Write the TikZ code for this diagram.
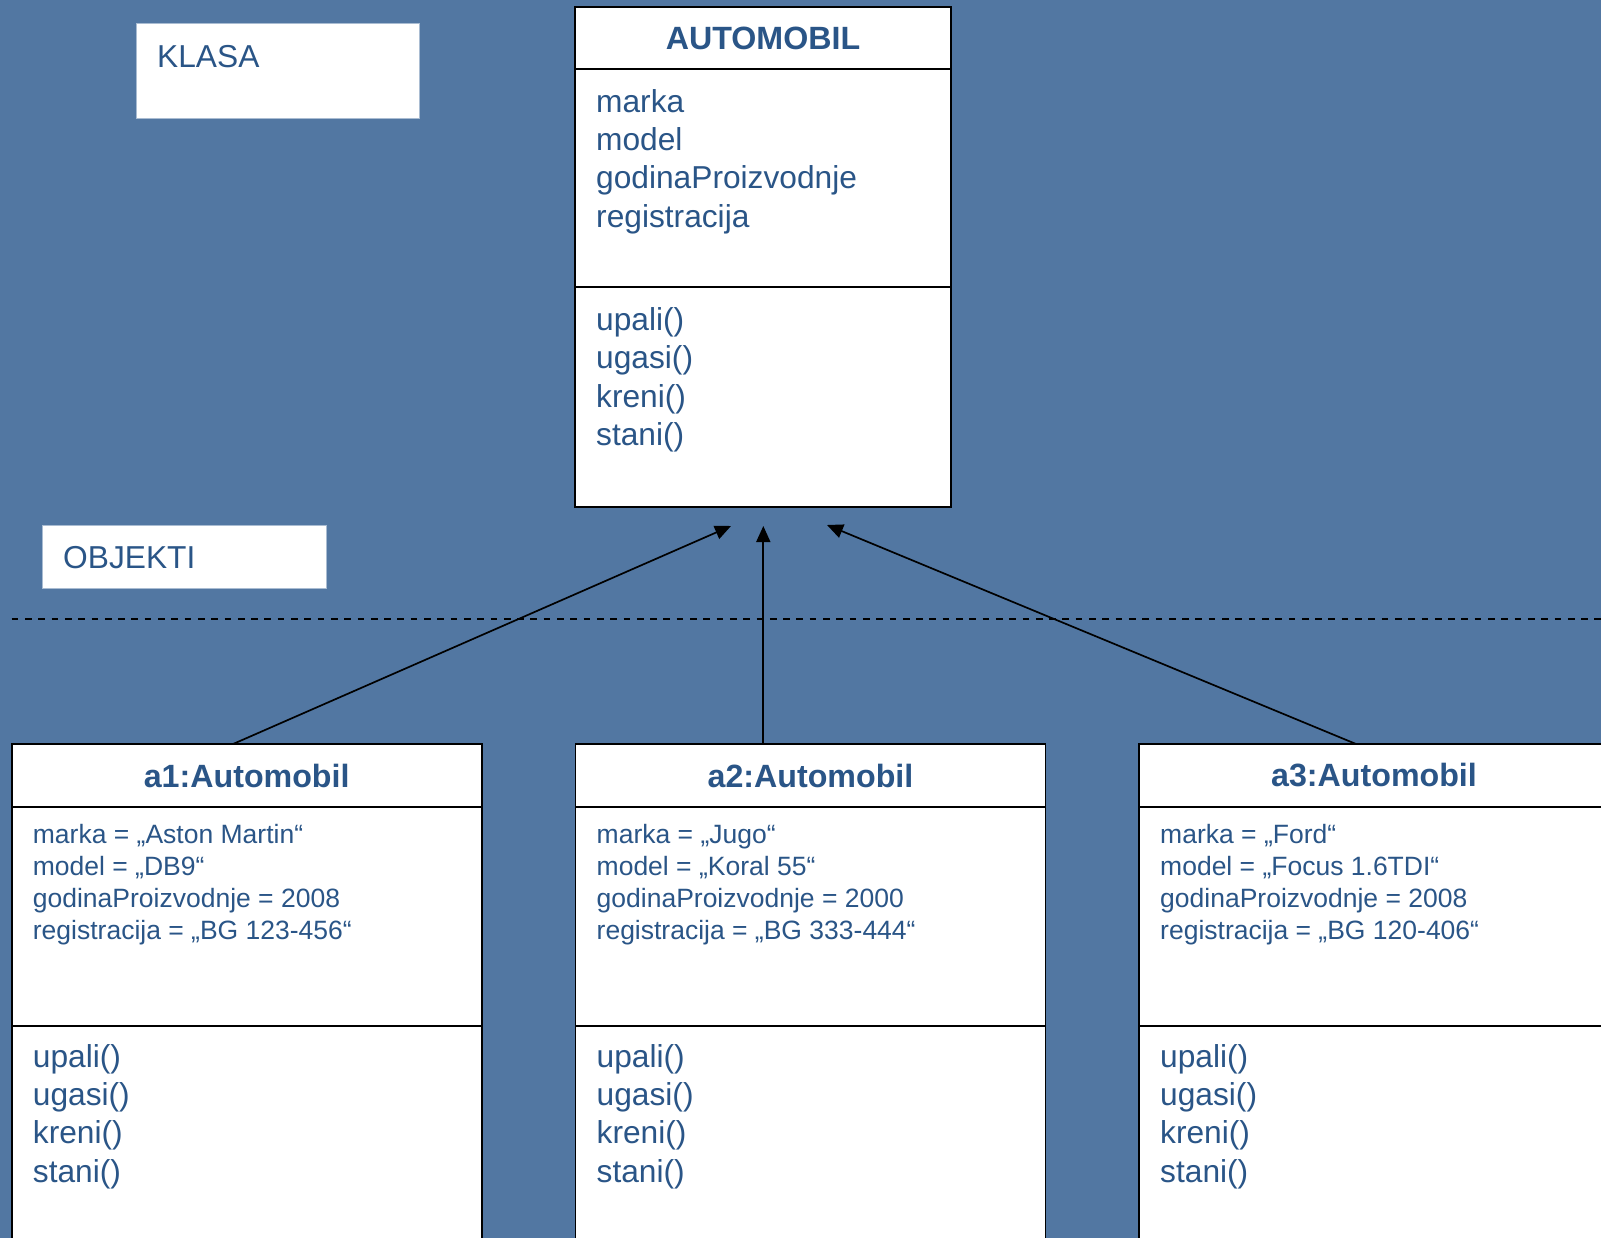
\documentclass[tikz,border=0pt]{standalone}
\usepackage{fontspec}
\setmainfont{Liberation Sans}
\usetikzlibrary{arrows.meta,calc}
\definecolor{bg}{HTML}{5277A2}
\definecolor{txt}{HTML}{2A5587}
\definecolor{lbl}{HTML}{A9BCD2}
\tikzset{
  part/.style={draw=black, fill=white, line width=1.8pt, inner sep=0pt, outer sep=0pt, anchor=north west, text=txt},
  titletext/.style={font=\fontsize{32.2}{38}\selectfont\bfseries},
  bigtext/.style={anchor=base west, inner sep=0pt, text=txt, font=\fontsize{31.7}{38}\selectfont},
  smalltext/.style={anchor=base west, inner sep=0pt, text=txt, font=\fontsize{26.5}{32}\selectfont},
  inh/.style={draw=black, line width=1.7pt, -{Triangle[length=16pt,width=14pt]}},
  sepline/.style={draw=black, line width=1.8pt, dash pattern=on 6.7pt off 6.6pt},
  tagbox/.style={draw=lbl, fill=white, line width=1pt, inner sep=0pt, outer sep=0pt, anchor=north west},
}
\newcommand\objbox[6]{%
  \node[part, titletext, minimum width=470pt, minimum height=63pt] (#1H) at (#2,744) {#3};
  \node[part, minimum width=470pt, minimum height=219pt] (#1A) at (#2,807) {};
  \node[part, minimum width=470pt, minimum height=240pt] (#1M) at (#2,1026) {};
  \node[smalltext] (#1a) at (#2+21,843) {#4};
  \node[smalltext] (#1b) at (#2+21,875.3) {#5};
  \node[smalltext] (#1c) at (#2+21,907.3) {#6};
}
\newcommand\objrest[2]{%
  \node[smalltext] (#1d) at (#2+21,939.8) {\objreg};
  \node[bigtext] (#1m1) at (#2+21,1067.5) {upali()};
  \node[bigtext] (#1m2) at (#2+21,1105.5) {ugasi()};
  \node[bigtext] (#1m3) at (#2+21,1143.5) {kreni()};
  \node[bigtext] (#1m4) at (#2+21,1182.5) {stani()};
}
\begin{document}
\begin{tikzpicture}[x=1pt,y=-1pt]
\useasboundingbox (0,0) rectangle (1601,1238);
\clip (0,0) rectangle (1601,1238);
\fill[bg] (0,0) rectangle (1601,1238);

% labels
\node[tagbox, minimum width=283pt, minimum height=95pt] (klasa) at (136,24) {};
\node[bigtext] (klasaT) at (157,67.5) {KLASA};
\node[tagbox, minimum width=284pt, minimum height=63pt] (objekti) at (42,525) {};
\node[bigtext] (objektiT) at (63,568.5) {OBJEKTI};

% separator
\coordinate (dl) at (11.7,619);
\coordinate (dr) at (1601,619);
\draw[sepline] (dl) -- (dr);

% class
\node[part, titletext, minimum width=376pt, minimum height=62pt] (cH) at (575,7) {AUTOMOBIL};
\node[part, minimum width=376pt, minimum height=218pt] (cA) at (575,69) {};
\node[part, minimum width=376pt, minimum height=220pt] (cM) at (575,287) {};
\node[bigtext] (ca1) at (596,112.5) {marka};
\node[bigtext] (ca2) at (596,150.5) {model};
\node[bigtext] (ca3) at (596,188.8) {godinaProizvodnje};
\node[bigtext] (ca4) at (596,227.2) {registracija};
\node[bigtext] (cm1) at (596,330.5) {upali()};
\node[bigtext] (cm2) at (596,368.8) {ugasi()};
\node[bigtext] (cm3) at (596,407.2) {kreni()};
\node[bigtext] (cm4) at (596,445.5) {stani()};

% objects
\objbox{o1}{11.7}{a1:Automobil}{marka = „Aston Martin“}{model = „DB9“}{godinaProizvodnje = 2008}
\def\objreg{registracija = „BG 123-456“}\objrest{o1}{11.7}
\objbox{o2}{575.5}{a2:Automobil}{marka = „Jugo“}{model = „Koral 55“}{godinaProizvodnje = 2000}
\def\objreg{registracija = „BG 333-444“}\objrest{o2}{575.5}
\objbox{o3}{1139}{a3:Automobil}{marka = „Ford“}{model = „Focus 1.6TDI“}{godinaProizvodnje = 2008}
\def\objreg{registracija = „BG 120-406“}\objrest{o3}{1139}

% instance arrows
\coordinate (t1) at (731,526);
\coordinate (t2) at (763.3,526);
\coordinate (t3) at (827,525);
\draw[inh] ($(o1H.north west)!0.471!(o1H.north east)$) -- (t1);
\draw[inh] (t2 |- o2H.north) -- (t2);
\draw[inh] ($(o3H.north west)!0.4617!(o3H.north east)$) -- (t3);
\end{tikzpicture}
\end{document}
